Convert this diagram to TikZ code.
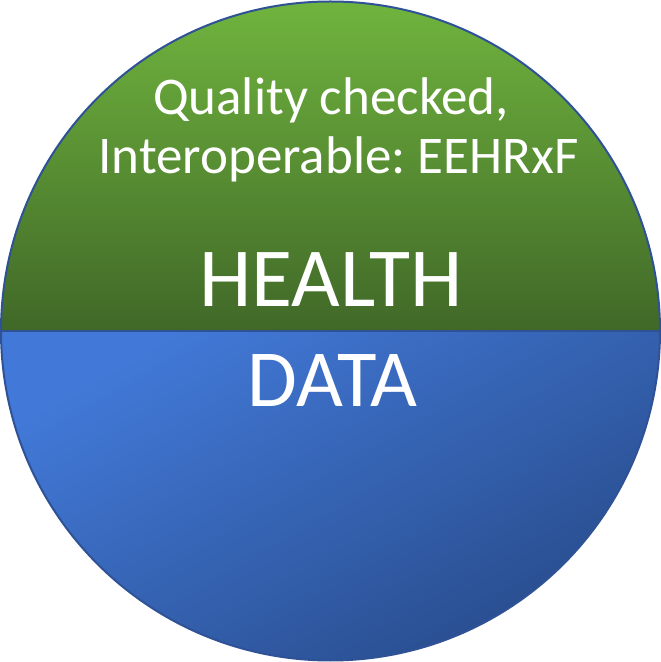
\documentclass[tikz,border=0pt]{standalone}
\usepackage{fontspec}
\setmainfont{Carlito}
\usetikzlibrary{positioning}
\frenchspacing
\definecolor{greenTop}{RGB}{112,180,62}
\definecolor{greenBot}{RGB}{64,104,40}
\definecolor{blueTop}{RGB}{66,121,216}
\definecolor{blueBot}{RGB}{40,76,140}
\definecolor{rimBlue}{RGB}{47,82,150}
\tikzset{
  label/.style={text=white, inner sep=0pt, anchor=base},
  small/.style={label, font=\fontsize{53}{60}\selectfont},
  big/.style={label, font=\fontsize{84}{90}\selectfont}
}
\begin{document}
\begin{tikzpicture}[x=1pt,y=1pt]
\useasboundingbox (0,0) rectangle (661,662);
\coordinate (c) at (330.5,331);
% upper half
\shade[top color=greenTop, bottom color=greenBot] (c) ++(-329.5,0) arc (180:0:329.5) -- cycle;
% lower half
\shade[top color=blueTop, bottom color=blueBot, shading angle=30] (c) ++(-329.5,0) arc (180:360:329.5) -- cycle;
\draw[rimBlue, line width=2pt] (c) circle (329.5);
\draw[rimBlue, line width=2pt] (c) ++(-329.5,0) -- ++(659,0);
% texts
\node[small] (quality) at (331,547) {Quality checked,};
\node[small] (interop) at (338.5,488) {Interoperable: EEHRxF};
\node[big] (health) at (331,355) {HEALTH};
\node[big, font=\fontsize{81}{90}\selectfont] (data) at (332.5,255) {DATA};
\end{tikzpicture}
\end{document}
